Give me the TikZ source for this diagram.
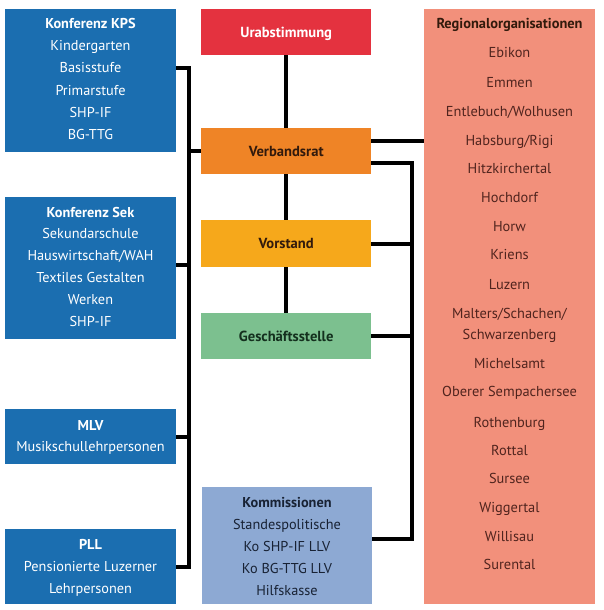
\documentclass[tikz,border=0pt]{standalone}
\usepackage{fontspec}
\setmainfont{PT Sans}
\definecolor{cblue}{RGB}{27,110,176}
\definecolor{cred}{RGB}{228,50,63}
\definecolor{corange}{RGB}{239,132,38}
\definecolor{camber}{RGB}{246,168,27}
\definecolor{cgreen}{RGB}{124,192,143}
\definecolor{ckom}{RGB}{141,169,211}
\definecolor{csalmon}{RGB}{242,144,123}
\definecolor{tregion}{RGB}{80,36,30}
\definecolor{tdark}{RGB}{50,26,12}
\definecolor{tgreen}{RGB}{20,48,30}
\definecolor{tnavy}{RGB}{24,34,52}
\newcommand\regline[3]{\node[rt] (#1) at (509.5,#2) {#3};}
\begin{document}
\begin{tikzpicture}[x=1pt,y=-1pt,
  boxnode/.style={rectangle,draw=none,inner sep=0pt,anchor=north west},
  basetext/.style={anchor=mid,inner sep=0pt,yshift=-2.5pt},
  lt/.style={basetext,text=white,font=\fontsize{14.3}{16}\selectfont},
  ltb/.style={lt,font=\fontsize{14.3}{16}\selectfont\bfseries},
  ct/.style={basetext,font=\fontsize{14.6}{16}\selectfont\bfseries},
  rt/.style={basetext,text=tregion,font=\fontsize{14.4}{16}\selectfont},
  kt/.style={basetext,text=tnavy,font=\fontsize{14.3}{16}\selectfont},
  conn/.style={draw=black,line width=4.3pt}]
\useasboundingbox[fill=white] (0,0) rectangle (603,610);
% left boxes
\node[boxnode,fill=cblue,minimum width=171pt,minimum height=143pt] (kps) at (5,9) {};
\node[boxnode,fill=cblue,minimum width=171pt,minimum height=142pt] (sek) at (5,197) {};
\node[boxnode,fill=cblue,minimum width=171pt,minimum height=55pt] (mlv) at (5,409) {};
\node[boxnode,fill=cblue,minimum width=171pt,minimum height=75pt] (pll) at (5,529) {};
% centre boxes
\node[boxnode,fill=cred,minimum width=170pt,minimum height=46pt] (ura) at (201,9) {};
\node[boxnode,fill=corange,minimum width=170pt,minimum height=46pt] (vr) at (201,128) {};
\node[boxnode,fill=camber,minimum width=170pt,minimum height=47pt] (vs) at (201,220) {};
\node[boxnode,fill=cgreen,minimum width=170pt,minimum height=46pt] (gs) at (201,313) {};
\node[boxnode,fill=ckom,minimum width=170pt,minimum height=117pt] (kom) at (202,487) {};
% right box
\node[boxnode,fill=csalmon,minimum width=171pt,minimum height=595pt] (reg) at (424,9) {};
% left texts
\node[ltb] (kpsT0) at (90.5,24) {Konferenz KPS};
\foreach \t [count=\i] in {Kindergarten,Basisstufe,Primarstufe,SHP-IF,BG-TTG}
  \node[lt] (kpsT\i) at (90.5,24+22*\i) {\t};
\node[ltb] (sekT0) at (90.5,212) {Konferenz Sek};
\foreach \t [count=\i] in {Sekundarschule,Hauswirtschaft/WAH,Textiles Gestalten,Werken,SHP-IF}
  \node[lt] (sekT\i) at (90.5,211+22*\i) {\t};
\node[ltb] (mlvT0) at (90.5,425) {MLV};
\node[lt] (mlvT1) at (90.5,446) {Musikschullehrpersonen};
\node[ltb] (pllT0) at (90.5,544) {PLL};
\node[lt] (pllT1) at (90.5,566) {Pensionierte Luzerner};
\node[lt] (pllT2) at (90.5,588) {Lehrpersonen};
% centre texts
\node[ct,text=white] (uraT) at (ura.center) {Urabstimmung};
\node[ct,text=tdark] (vrT) at (vr.center) {Verbandsrat};
\node[ct,text=tdark] (vsT) at (vs.center) {Vorstand};
\node[ct,text=tgreen] (gsT) at (gs.center) {Geschäftsstelle};
\node[kt,font=\fontsize{14.3}{16}\selectfont\bfseries] (komT0) at (287,502) {Kommissionen};
\foreach \t [count=\i] in {Standespolitische,Ko SHP-IF LLV,Ko BG-TTG LLV,Hilfskasse}
  \node[kt] (komT\i) at (287,502+22*\i) {\t};
% right texts
\node[rt,text=tdark,font=\fontsize{14.4}{16}\selectfont\bfseries] (regT0) at (509.5,24) {Regionalorganisationen};
\regline{r1}{53}{Ebikon}
\regline{r2}{82}{Emmen}
\regline{r3}{111}{Entlebuch/Wolhusen}
\regline{r4}{140}{Habsburg/Rigi}
\regline{r5}{168}{Hitzkirchertal}
\regline{r6}{197}{Hochdorf}
\regline{r7}{226}{Horw}
\regline{r8}{254}{Kriens}
\regline{r9}{284}{Luzern}
\regline{r10}{313}{Malters/Schachen/}
\regline{r11}{334}{Schwarzenberg}
\regline{r12}{363}{Michelsamt}
\regline{r13}{391}{Oberer Sempachersee}
\regline{r14}{422}{Rothenburg}
\regline{r15}{450}{Rottal}
\regline{r16}{478}{Sursee}
\regline{r17}{507}{Wiggertal}
\regline{r18}{536}{Willisau}
\regline{r19}{564}{Surental}
% connectors
\coordinate (bl) at (189,0);
\coordinate (br) at (412,0);
\draw[conn] (kps.east |- 0,68) -- (bl |- 0,68) -- (bl |- pll.east) -- (pll.east);
\draw[conn] ([yshift=3pt]sek.east) -- ([yshift=3pt]bl |- sek.east);
\draw[conn] (mlv.east) -- (bl |- mlv.east);
\draw[conn] (bl |- vr.west) -- (vr.west);
\draw[conn] (ura.south) -- (vr.north);
\draw[conn] (vr.south) -- (vs.north);
\draw[conn] (vs.south) -- (gs.north);
\draw[conn] ([yshift=10pt]vr.east) -- ([yshift=10pt]vr.east -| reg.west);
\draw[conn] ([yshift=-12pt]vr.east) -- ([yshift=-12pt]br |- vr.east) -- ([yshift=6.5pt]br |- kom.east) -- ([yshift=6.5pt]kom.east);
\draw[conn] (vs.east) -- (br |- vs.east);
\draw[conn] (gs.east) -- (br |- gs.east);
\end{tikzpicture}
\end{document}
